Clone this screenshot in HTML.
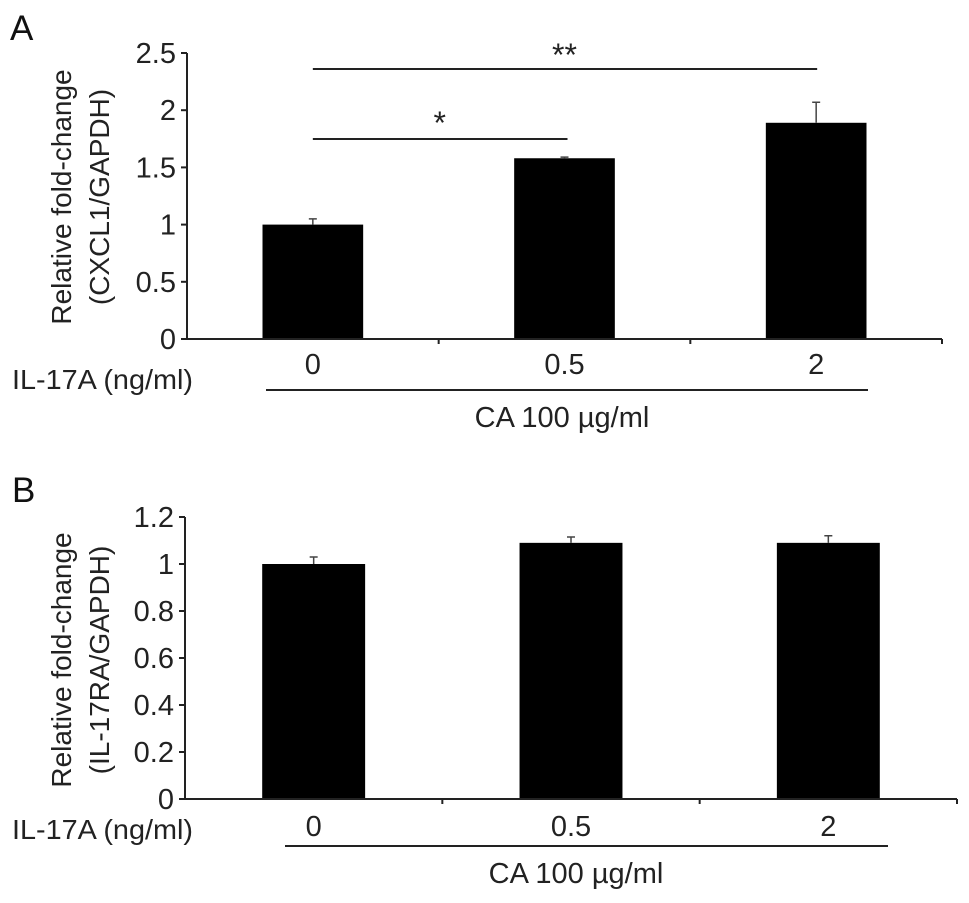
<!DOCTYPE html>
<html><head><meta charset="utf-8"><style>
html,body{margin:0;padding:0;background:#fff;}
svg{display:block;font-family:"Liberation Sans",Arial,sans-serif;}
</style></head><body>
<svg id="fig" width="969" height="903" viewBox="0 0 969 903">
<text x="10" y="40" font-size="35" fill="#111">A</text>
<text x="12" y="502" font-size="35" fill="#111">B</text>
</svg>
<script>
const catsA = ["0","0.5","2"];
const valsA = [1.0, 1.58, 1.89];
const errA = [0.05, 0.01, 0.18];
const ticksA = [0,0.5,1,1.5,2,2.5];
const tickLabelsA = ["0","0.5","1","1.5","2","2.5"];
const catsB = ["0","0.5","2"];
const valsB = [1.0, 1.09, 1.09];
const errB = [0.03, 0.025, 0.03];
const ticksB = [0,0.2,0.4,0.6,0.8,1,1.2];
const tickLabelsB = ["0","0.2","0.4","0.6","0.8","1","1.2"];

const NS="http://www.w3.org/2000/svg";
const svg=document.getElementById('fig');
function mk(tag,attrs,parent){const e=document.createElementNS(NS,tag);for(const k in attrs)e.setAttribute(k,attrs[k]);(parent||svg).appendChild(e);return e;}

function panel(p){
  const g=mk('g',{});
  
  
  const y=v=>p.y0-(v/p.max)*(p.y0-p.yTop);
  const band=(p.x1-p.x0)/p.cats.length;
  const xc=i=>p.x0+band*(i+0.5);
  const ya=mk('line',{x1:p.x0,y1:y(p.max),x2:p.x0,y2:p.y0,stroke:'#222','stroke-width':2},g);
  
  
  p.ticks.forEach((t,i)=>{
    const tk=mk('line',{x1:p.x0-6,y1:y(t),x2:p.x0,y2:y(t),stroke:'#222','stroke-width':2},g);
    
    
    const tl=mk('text',{x:p.x0-11,y:y(t)+10,'font-size':29,'text-anchor':'end',fill:'#222'},g);
    tl.textContent=p.tickLabels[i];
    
    
  });
  p.vals.forEach((v,i)=>{
    const w=band*0.4;
    const r=mk('rect',{x:xc(i)-w/2,y:y(v),width:w,height:p.y0-y(v),fill:'#000'},g);
    
    
    const e=mk('path',{d:`M${xc(i)} ${y(v)} V${y(v+p.err[i])} M${xc(i)-4} ${y(v+p.err[i])} H${xc(i)+4}`,stroke:'#444','stroke-width':1.5,fill:'none'},g);
    
    
    const cl=mk('text',{x:xc(i),y:p.catY,'font-size':29,'text-anchor':'middle',fill:'#222'},g);
    cl.textContent=p.cats[i];
    
    
  });
  const xa=mk('line',{x1:p.x0,y1:p.y0,x2:p.x1,y2:p.y0,stroke:'#222','stroke-width':2},g);
  
  
  for(let i=1;i<=p.cats.length;i++){
    const tk=mk('line',{x1:p.x0+band*i,y1:p.y0,x2:p.x0+band*i,y2:p.y0+5,stroke:'#222','stroke-width':2},g);
    
    
  }
  const tt=mk('text',{transform:`translate(${p.titleX},${p.titleY}) rotate(-90)`,'font-size':28,'text-anchor':'middle',fill:'#222'},g);
  
  
  const t1=mk('tspan',{x:0,dy:0},tt);t1.textContent='Relative fold-change';
  const t2=mk('tspan',{x:0,dy:38},tt);t2.textContent=p.title2;
  const il=mk('text',{x:12,y:p.ilY,'font-size':28,fill:'#222',textLength:181,lengthAdjust:'spacingAndGlyphs'},g);
  il.textContent='IL-17A (ng/ml)';
  
  
  const cal=mk('line',{x1:p.caX0,y1:p.caLY,x2:p.caX1,y2:p.caLY,stroke:'#222','stroke-width':2},g);
  
  
  const ct=mk('text',{x:p.caTX,y:p.caTY,'font-size':29,'text-anchor':'middle',fill:'#222'},g);
  ct.textContent='CA 100 µg/ml';
  
  
  return {xc,y};
}

const A=panel({name:'panel-a-chart',cats:catsA,vals:valsA,err:errA,ticks:ticksA,tickLabels:tickLabelsA,max:2.5,
  x0:187,x1:942,y0:339,yTop:53,catY:374,titleX:71,titleY:197,title2:'(CXCL1/GAPDH)',ilY:389,
  caX0:266,caX1:868,caLY:390,caTX:562,caTY:427});
const B=panel({name:'panel-b-chart',cats:catsB,vals:valsB,err:errB,ticks:ticksB,tickLabels:tickLabelsB,max:1.2,
  x0:185,x1:957,y0:799,yTop:517,catY:836,titleX:71,titleY:660,title2:'(IL-17RA/GAPDH)',ilY:839,
  caX0:285,caX1:888,caLY:846,caTX:576,caTY:883});

const s1=mk('line',{x1:A.xc(0),y1:139,x2:A.xc(1)+3,y2:139,stroke:'#222','stroke-width':2});


const st1=mk('text',{x:(A.xc(0)+A.xc(1))/2+1,y:134,'font-size':32,'text-anchor':'middle',fill:'#222'});
st1.textContent='*';


const s2=mk('line',{x1:A.xc(0),y1:69,x2:A.xc(2)+1,y2:69,stroke:'#222','stroke-width':2});


const st2=mk('text',{x:(A.xc(0)+A.xc(2))/2,y:66,'font-size':32,'text-anchor':'middle',fill:'#222'});
st2.textContent='**';


</script>
</body></html>
